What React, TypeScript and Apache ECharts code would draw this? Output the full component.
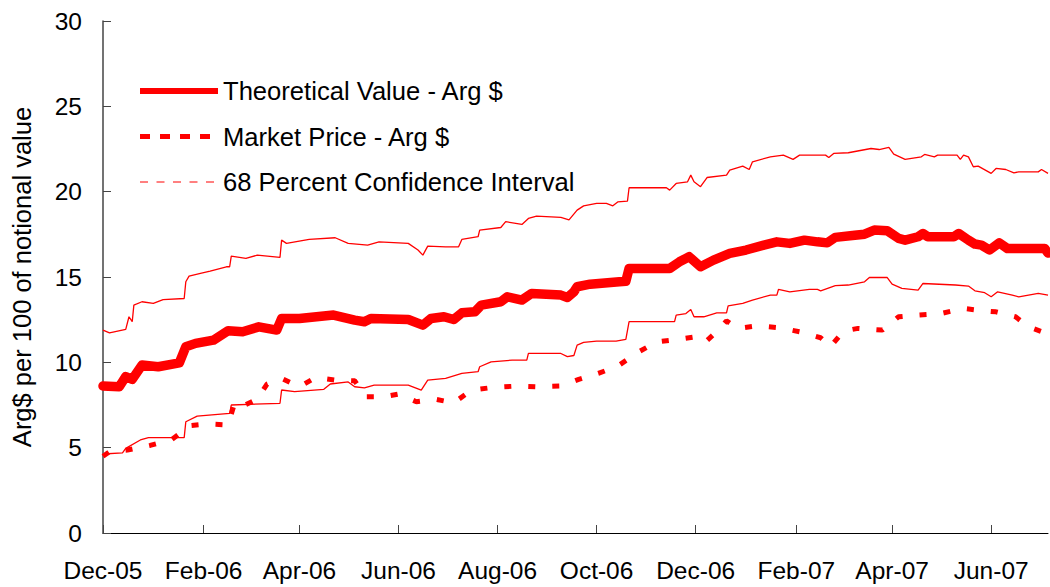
import { useEffect, useRef } from "react";
import * as echarts from "echarts";

// X positions are day offsets from 1 Dec 2005 (category index on the daily axis)
const AXIS_START = Date.UTC(2005, 11, 1);
const AXIS_DAYS = 583;
const MONTHS = ["Jan", "Feb", "Mar", "Apr", "May", "Jun", "Jul", "Aug", "Sep", "Oct", "Nov", "Dec"];

const theoreticalDays = [0, 10, 14, 18, 24, 34, 47, 51, 57, 68, 77, 86, 96, 107, 110, 121, 142, 155, 161, 165, 188, 197, 202, 210, 216, 221, 229, 233, 245, 249, 258, 264, 282, 286, 290, 292, 300, 318, 322, 324, 349, 355, 361, 368, 376, 386, 396, 407, 415, 423, 432, 440, 446, 451, 463, 469, 475, 483, 490, 494, 502, 505, 508, 524, 527, 533, 537, 541, 546, 552, 557, 568, 580, 582];
const theoreticalValues = [8.61, 8.57, 9.16, 9.0, 9.84, 9.74, 9.97, 10.91, 11.11, 11.3, 11.85, 11.79, 12.08, 11.89, 12.57, 12.57, 12.77, 12.47, 12.38, 12.57, 12.51, 12.18, 12.57, 12.67, 12.51, 12.9, 12.96, 13.35, 13.55, 13.84, 13.65, 14.04, 13.94, 13.8, 14.13, 14.43, 14.58, 14.72, 14.75, 15.5, 15.5, 15.89, 16.19, 15.6, 15.99, 16.38, 16.58, 16.87, 17.06, 16.97, 17.16, 17.06, 17.0, 17.32, 17.45, 17.51, 17.75, 17.71, 17.26, 17.16, 17.36, 17.55, 17.36, 17.36, 17.55, 17.16, 16.93, 16.87, 16.58, 17.0, 16.67, 16.67, 16.67, 16.4];

const marketDays = [0, 4, 15, 29, 42, 54, 64, 77, 81, 85, 95, 101, 110, 121, 131, 143, 155, 162, 173, 182, 193, 205, 216, 227, 240, 255, 267, 282, 293, 305, 317, 330, 341, 355, 365, 371, 380, 384, 391, 403, 417, 429, 442, 448, 456, 465, 480, 490, 502, 516, 530, 542, 550, 562, 570, 580];
const marketValues = [4.5, 4.76, 4.86, 5.13, 5.45, 6.3, 6.39, 6.33, 7.6, 7.4, 7.84, 8.72, 9.06, 8.57, 9.11, 8.96, 8.92, 7.98, 7.98, 8.14, 7.69, 7.83, 7.63, 8.37, 8.53, 8.61, 8.57, 8.61, 9.0, 9.35, 9.78, 10.62, 11.2, 11.36, 11.5, 11.19, 11.99, 12.43, 11.99, 12.14, 12.02, 11.79, 11.44, 10.91, 11.83, 11.99, 11.89, 12.67, 12.77, 12.86, 13.16, 13.02, 12.96, 12.67, 12.08, 11.73];

const upperDays = [0, 4, 14, 16, 18, 19, 24, 31, 37, 50, 51, 53, 60, 66, 76, 78, 79, 88, 95, 109, 110, 113, 127, 143, 151, 163, 170, 188, 194, 197, 200, 211, 219, 221, 231, 232, 245, 248, 258, 262, 267, 282, 287, 292, 296, 304, 310, 314, 317, 323, 324, 347, 349, 353, 360, 362, 364, 368, 372, 384, 386, 394, 398, 400, 411, 419, 425, 429, 445, 447, 450, 459, 473, 478, 484, 487, 494, 504, 506, 512, 514, 526, 528, 530, 533, 536, 539, 547, 550, 556, 561, 564, 576, 578, 582];
const upperValues = [11.89, 11.73, 11.93, 12.67, 12.38, 13.35, 13.55, 13.45, 13.68, 13.74, 14.72, 15.05, 15.21, 15.34, 15.6, 15.6, 16.22, 16.09, 16.28, 16.15, 17.16, 16.97, 17.2, 17.3, 16.97, 16.87, 17.06, 16.97, 16.58, 16.28, 16.81, 16.77, 16.77, 17.2, 17.36, 17.75, 17.9, 18.24, 18.08, 18.43, 18.57, 18.49, 18.35, 18.92, 19.17, 19.31, 19.31, 19.17, 19.4, 19.45, 20.23, 20.23, 20.09, 20.48, 20.58, 20.97, 20.58, 20.29, 20.83, 20.97, 21.26, 21.5, 21.3, 21.75, 22.04, 22.14, 21.89, 22.14, 22.14, 22.0, 22.24, 22.28, 22.53, 22.47, 22.59, 22.2, 21.89, 22.04, 22.18, 22.04, 22.14, 22.14, 21.89, 22.14, 22.04, 21.46, 21.5, 21.07, 21.36, 21.3, 21.1, 21.16, 21.16, 21.3, 21.07];

const lowerDays = [0, 12, 14, 23, 28, 50, 51, 58, 78, 79, 109, 110, 118, 136, 140, 151, 155, 161, 167, 188, 196, 200, 211, 221, 231, 232, 239, 252, 261, 262, 282, 286, 290, 292, 296, 304, 316, 322, 324, 352, 353, 359, 362, 364, 370, 378, 384, 385, 394, 400, 411, 415, 416, 423, 435, 440, 442, 451, 459, 469, 472, 483, 486, 492, 502, 505, 525, 533, 537, 543, 547, 551, 560, 564, 576, 582];
const lowerValues = [4.63, 4.7, 4.96, 5.45, 5.59, 5.59, 6.52, 6.85, 7.01, 7.5, 7.6, 8.38, 8.28, 8.42, 8.73, 8.85, 8.57, 8.5, 8.67, 8.67, 8.37, 8.96, 9.06, 9.35, 9.45, 9.74, 10.03, 10.13, 10.13, 10.52, 10.52, 10.33, 10.4, 11.01, 11.17, 11.24, 11.24, 11.34, 12.38, 12.38, 12.77, 12.86, 13.1, 12.67, 12.67, 12.9, 12.9, 13.31, 13.45, 13.65, 13.94, 13.94, 14.27, 14.13, 14.27, 14.27, 14.19, 14.49, 14.53, 14.72, 14.97, 14.97, 14.58, 14.33, 14.23, 14.62, 14.53, 14.47, 14.19, 14.08, 13.84, 14.13, 13.94, 13.84, 14.04, 13.94];

const SERIES_THEORETICAL = "Theoretical Value - Arg $";
const SERIES_MARKET = "Market Price - Arg $";
const SERIES_CI = "68 Percent Confidence Interval";

const Y_MIN = 0;
const Y_MAX = 30;
const Y_STEP = 5;

const FONT = '"Liberation Sans", Arial, Helvetica, sans-serif';
const RED = "#ff0000";

function dayCategories(): string[] {
  const out: string[] = [];
  for (let i = 0; i < AXIS_DAYS; i++) {
    out.push(new Date(AXIS_START + i * 86400000).toISOString().slice(0, 10));
  }
  return out;
}

function isTickDay(value: string): boolean {
  const d = new Date(value + "T00:00:00Z");
  return d.getUTCDate() === 1 && d.getUTCMonth() % 2 === 1;
}

function monthLabel(value: string): string {
  const d = new Date(value + "T00:00:00Z");
  return `${MONTHS[d.getUTCMonth()]}-${String(d.getUTCFullYear() % 100).padStart(2, "0")}`;
}

function pairs(days: number[], values: number[]) {
  return days.map((d, i) => [d, values[i]]);
}

export default function App() {
  const ref = useRef<HTMLDivElement>(null);

  useEffect(() => {
    if (!ref.current) return;
    const chart = echarts.init(ref.current, undefined, { renderer: "svg" });
    const categories = dayCategories();

    chart.setOption({
      animation: false,
      backgroundColor: "#ffffff",
      grid: { left: 103, right: 2, top: 21, bottom: 54, containLabel: false },
      legend: {
        orient: "vertical",
        left: 132,
        top: 73,
        padding: 5,
        itemWidth: 78,
        itemHeight: 25,
        itemGap: 19.5,
        selectedMode: false,
        itemStyle: { opacity: 0 },
        textStyle: { fontFamily: FONT, fontSize: 25.6, color: "#000", lineHeight: 25 },
        data: [
          { name: SERIES_THEORETICAL, lineStyle: { color: RED, width: 6, type: "solid", cap: "butt" } },
          { name: SERIES_MARKET, lineStyle: { color: RED, width: 5, type: [10, 10], cap: "butt" } },
          { name: SERIES_CI, lineStyle: { color: RED, width: 1, type: [8, 8.5] } },
        ],
      },
      xAxis: {
        type: "category",
        data: categories,
        boundaryGap: false,
        axisLine: { show: true, lineStyle: { color: "#000", width: 1 } },
        axisTick: {
          show: true,
          inside: true,
          length: 8,
          interval: (_i: number, v: string) => isTickDay(v),
          lineStyle: { color: "#444", width: 1 },
        },
        axisLabel: {
          show: true,
          interval: (_i: number, v: string) => isTickDay(v),
          formatter: (v: string) => monthLabel(v),
          margin: 25,
          fontFamily: FONT,
          fontSize: 24.5,
          color: "#000",
        },
        splitLine: { show: false },
      },
      yAxis: {
        type: "value",
        min: Y_MIN,
        max: Y_MAX,
        interval: Y_STEP,
        name: "Arg$ per 100 of notional value",
        nameLocation: "middle",
        nameGap: 68,
        nameTextStyle: { fontFamily: FONT, fontSize: 25.5, color: "#000" },
        axisLine: { show: true, lineStyle: { color: "#444", width: 1.5 } },
        axisTick: { show: true, inside: true, length: 8, lineStyle: { color: "#444", width: 1 } },
        axisLabel: { margin: 21, fontFamily: FONT, fontSize: 24.5, color: "#000" },
        splitLine: { show: false },
      },
      series: [
        {
          name: SERIES_CI,
          type: "line",
          data: pairs(upperDays, upperValues),
          symbol: "none",
          lineStyle: { color: RED, width: 1.3 },
          itemStyle: { color: RED },
          z: 2,
        },
        {
          name: SERIES_CI,
          type: "line",
          data: pairs(lowerDays, lowerValues),
          symbol: "none",
          lineStyle: { color: RED, width: 1.3 },
          itemStyle: { color: RED },
          z: 2,
        },
        {
          name: SERIES_MARKET,
          type: "line",
          data: pairs(marketDays, marketValues),
          symbol: "none",
          lineStyle: { color: RED, width: 5, type: [7, 17] },
          itemStyle: { color: RED },
          z: 3,
        },
        {
          name: SERIES_THEORETICAL,
          type: "line",
          data: pairs(theoreticalDays, theoreticalValues),
          symbol: "none",
          lineStyle: { color: RED, width: 9.5, join: "round", cap: "round" },
          itemStyle: { color: RED },
          z: 4,
        },
      ],
    });

    return () => chart.dispose();
  }, []);

  return (
    <div
      ref={ref}
      style={{ position: "fixed", left: 0, top: 0, width: 1050, height: 587, background: "#fff" }}
    />
  );
}
